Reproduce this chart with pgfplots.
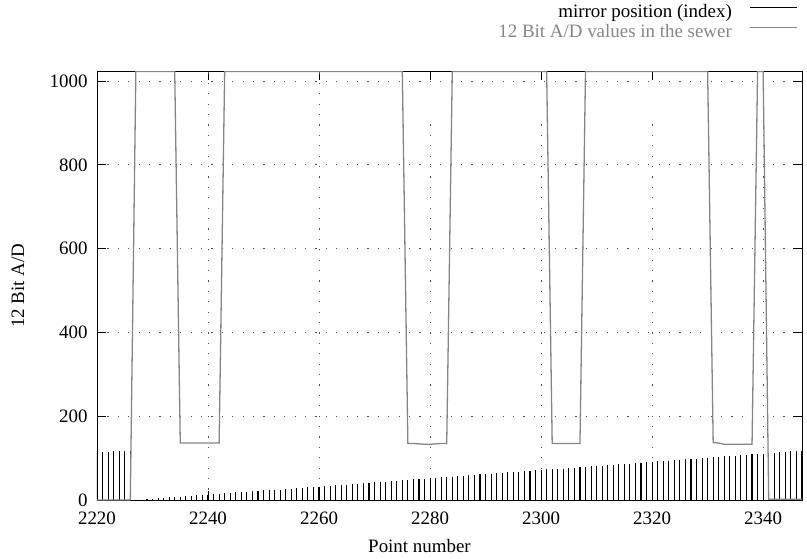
\documentclass[border=0pt]{standalone}
\usepackage{fontspec}
\setmainfont{Liberation Serif}
\usepackage{pgfplots}
\usepackage{pgfplotstable}
\pgfplotsset{compat=1.18}
\definecolor{sewergray}{rgb}{0.52,0.52,0.52}

% x: point number, m: mirror position (index), s: 12 bit A/D value in the sewer
\pgfplotstableread{
x m s
2220 113 0
2221 114 0
2222 115 0
2223 116 0
2224 117 0
2225 118 0
2226 118 0
2227 0 1023
2228 1 1023
2229 2 1023
2230 3 1023
2231 4 1023
2232 5 1023
2233 6 1023
2234 7 1023
2235 8 136
2236 9 136
2237 10 136
2238 11 136
2239 12 136
2240 13 136
2241 14 136
2242 15 136
2243 16 1023
2244 17 1023
2245 18 1023
2246 19 1023
2247 20 1023
2248 21 1023
2249 22 1023
2250 23 1023
2251 24 1023
2252 24 1023
2253 25 1023
2254 26 1023
2255 27 1023
2256 28 1023
2257 29 1023
2258 30 1023
2259 31 1023
2260 32 1023
2261 33 1023
2262 34 1023
2263 35 1023
2264 36 1023
2265 37 1023
2266 38 1023
2267 39 1023
2268 40 1023
2269 41 1023
2270 42 1023
2271 43 1023
2272 44 1023
2273 45 1023
2274 46 1023
2275 47 1023
2276 48 135
2277 49 135
2278 50 134
2279 51 133
2280 52 133
2281 53 134
2282 54 135
2283 55 135
2284 56 1023
2285 57 1023
2286 58 1023
2287 59 1023
2288 60 1023
2289 61 1023
2290 62 1023
2291 63 1023
2292 64 1023
2293 65 1023
2294 66 1023
2295 67 1023
2296 68 1023
2297 69 1023
2298 70 1023
2299 71 1023
2300 72 1023
2301 73 1023
2302 73 135
2303 74 135
2304 75 135
2305 76 135
2306 77 135
2307 78 135
2308 79 1023
2309 80 1023
2310 81 1023
2311 82 1023
2312 83 1023
2313 84 1023
2314 85 1023
2315 86 1023
2316 87 1023
2317 88 1023
2318 89 1023
2319 90 1023
2320 91 1023
2321 92 1023
2322 93 1023
2323 94 1023
2324 95 1023
2325 96 1023
2326 97 1023
2327 98 1023
2328 99 1023
2329 100 1023
2330 101 1023
2331 102 137
2332 103 136
2333 104 133
2334 105 133
2335 106 133
2336 107 133
2337 108 133
2338 109 133
2339 110 1023
2340 111 1023
2341 112 2
2342 113 2
2343 114 2
2344 115 2
2345 116 2
2346 117 2
2347 118 2
}\scandata

\begin{document}
\begin{tikzpicture}[font=\fontsize{19}{21}\selectfont]
\begin{axis}[
    scale only axis,
    width=705bp, height=428.5bp,
    xmin=2220, xmax=2347,
    ymin=0, ymax=1023,
    xtick={2220,2240,...,2340},
    ytick={0,200,...,1000},
    tick align=inside, tick pos=both,
    xticklabel pos=lower, yticklabel pos=left,
    major tick length=9bp,
    every tick/.style={black, line width=0.9bp},
    axis line style={line width=0.9bp},
    /pgf/number format/assume math mode=true,
    /pgf/number format/1000 sep={},
    xticklabel style={yshift=-8bp},
    yticklabel style={xshift=-6bp},
    ymajorgrids,
    grid style={black!70, line width=1bp, dash pattern=on 1.2bp off 9.2bp},
    xlabel={Point number},
    ylabel={12 Bit A/D},
    every axis x label/.style={at={([xshift=-30bp,yshift=-46bp]axis description cs:0.5,0)}, anchor=center},
    every axis y label/.style={at={([xshift=-79bp]axis description cs:0,0.5)}, anchor=center, rotate=90},
    legend plot pos=right,
    legend cell align=right,
    legend style={at={(1,1)}, anchor=south east, xshift=-4bp, yshift=29bp,
        draw=none, fill=none, inner sep=0pt, row sep=1bp, column sep=17bp,
        nodes={inner sep=1bp, text height=13bp, text depth=4bp}},
]
% vertical grid (gnuplot leaves the key area free)
\draw[black!70, line width=1bp, dash pattern=on 1.2bp off 9.2bp] (axis cs:2240,0) -- (axis cs:2240,1023);
\draw[black!70, line width=1bp, dash pattern=on 1.2bp off 9.2bp] (axis cs:2260,0) -- (axis cs:2260,1023);
\draw[black!70, line width=1bp, dash pattern=on 1.2bp off 9.2bp] (axis cs:2280,0) -- (axis cs:2280,907);
\draw[black!70, line width=1bp, dash pattern=on 1.2bp off 9.2bp] (axis cs:2300,0) -- (axis cs:2300,907);
\draw[black!70, line width=1bp, dash pattern=on 1.2bp off 9.2bp] (axis cs:2320,0) -- (axis cs:2320,907);
\draw[black!70, line width=1bp, dash pattern=on 1.2bp off 9.2bp] (axis cs:2340,0) -- (axis cs:2340,907);

\addplot[ycomb, black, line width=1.1bp, mark=none,
    legend image code/.code={\draw[black, line width=1bp] (0bp,5bp) -- (47bp,5bp);}]
    table[x=x, y=m] {\scandata};
\addlegendentry{mirror position (index)}

\addplot[sewergray, line width=1.3bp, mark=none,
    legend image code/.code={\draw[sewergray, line width=1bp] (0bp,5bp) -- (47bp,5bp);}]
    table[x=x, y=s] {\scandata};
\addlegendentry{\textcolor{sewergray}{12 Bit A/D values in the sewer}}
\end{axis}
\pgfresetboundingbox
\path[use as bounding box] (-97bp,-59bp) rectangle (710bp,500bp);
\end{tikzpicture}
\end{document}
